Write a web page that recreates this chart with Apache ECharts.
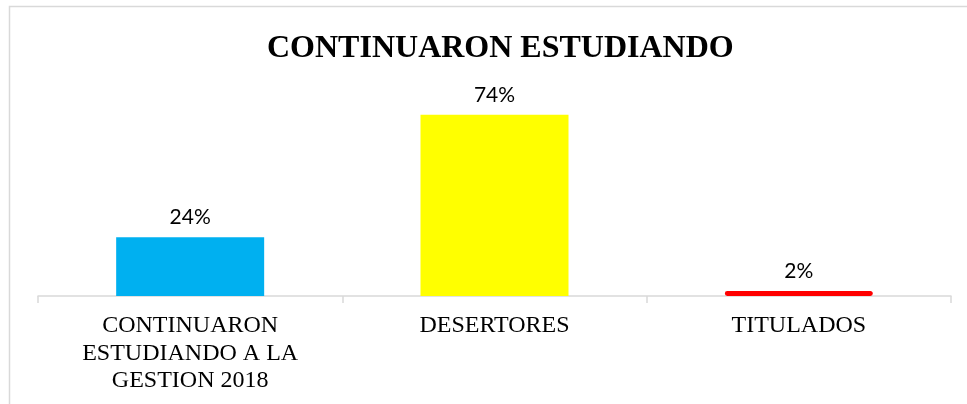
<!DOCTYPE html>
<html>
<head>
<meta charset="utf-8">
<script src="https://cdn.jsdelivr.net/npm/echarts@6/dist/echarts.min.js"></script>
<style>html,body{margin:0;padding:0;background:#fff}#c{width:967px;height:404px}</style>
</head>
<body>
<div id="c"></div>
<script>
const titleText = 'CONTINUARON ESTUDIANDO';
const categories = ['CONTINUARON\nESTUDIANDO A LA\nGESTION 2018', 'DESERTORES', 'TITULADOS'];
const values = [24, 74, 2];
const barColors = ['#00B0F0', '#FFFF00', '#FF0000'];

const chart = echarts.init(document.getElementById('c'), null, {renderer: 'canvas'});
chart.setOption({
  animation: false,
  backgroundColor: '#fff',
  graphic: [{
    type: 'rect', silent: true, z: -1,
    shape: {x: 9.5, y: 6.5, width: 1200, height: 600},
    style: {fill: 'none', stroke: '#d9d9d9', lineWidth: 1.5}
  }],
  title: {
    text: titleText,
    left: 262, top: 28,
    textStyle: {fontFamily: 'Liberation Serif', fontWeight: 'bold', fontSize: 32, color: '#000'}
  },
  grid: {left: 38, right: 16, top: 51, bottom: 108, containLabel: false},
  xAxis: {
    type: 'category',
    data: categories,
    axisLine: {lineStyle: {color: '#d9d9d9', width: 1.5}},
    axisTick: {show: true, length: 7, lineStyle: {color: '#d9d9d9', width: 1.5}},
    axisLabel: {
      fontFamily: 'Liberation Serif', fontSize: 24, color: '#000',
      lineHeight: 27.5, margin: 16, interval: 0
    }
  },
  yAxis: {type: 'value', min: 0, max: 100, show: false, splitLine: {show: false}},
  series: [{
    type: 'bar',
    barWidth: 148,
    data: values.map((v, i) => ({
      value: v,
      itemStyle: i === 2
        ? {color: barColors[i], borderColor: barColors[i], borderWidth: 4, borderRadius: 2}
        : {color: barColors[i]}
    })),
    label: {
      show: true, position: 'top', distance: 9,
      formatter: p => p.value + '%',
      fontFamily: 'Lato', fontSize: 21, color: '#000'
    }
  }]
});
</script>
</body>
</html>
